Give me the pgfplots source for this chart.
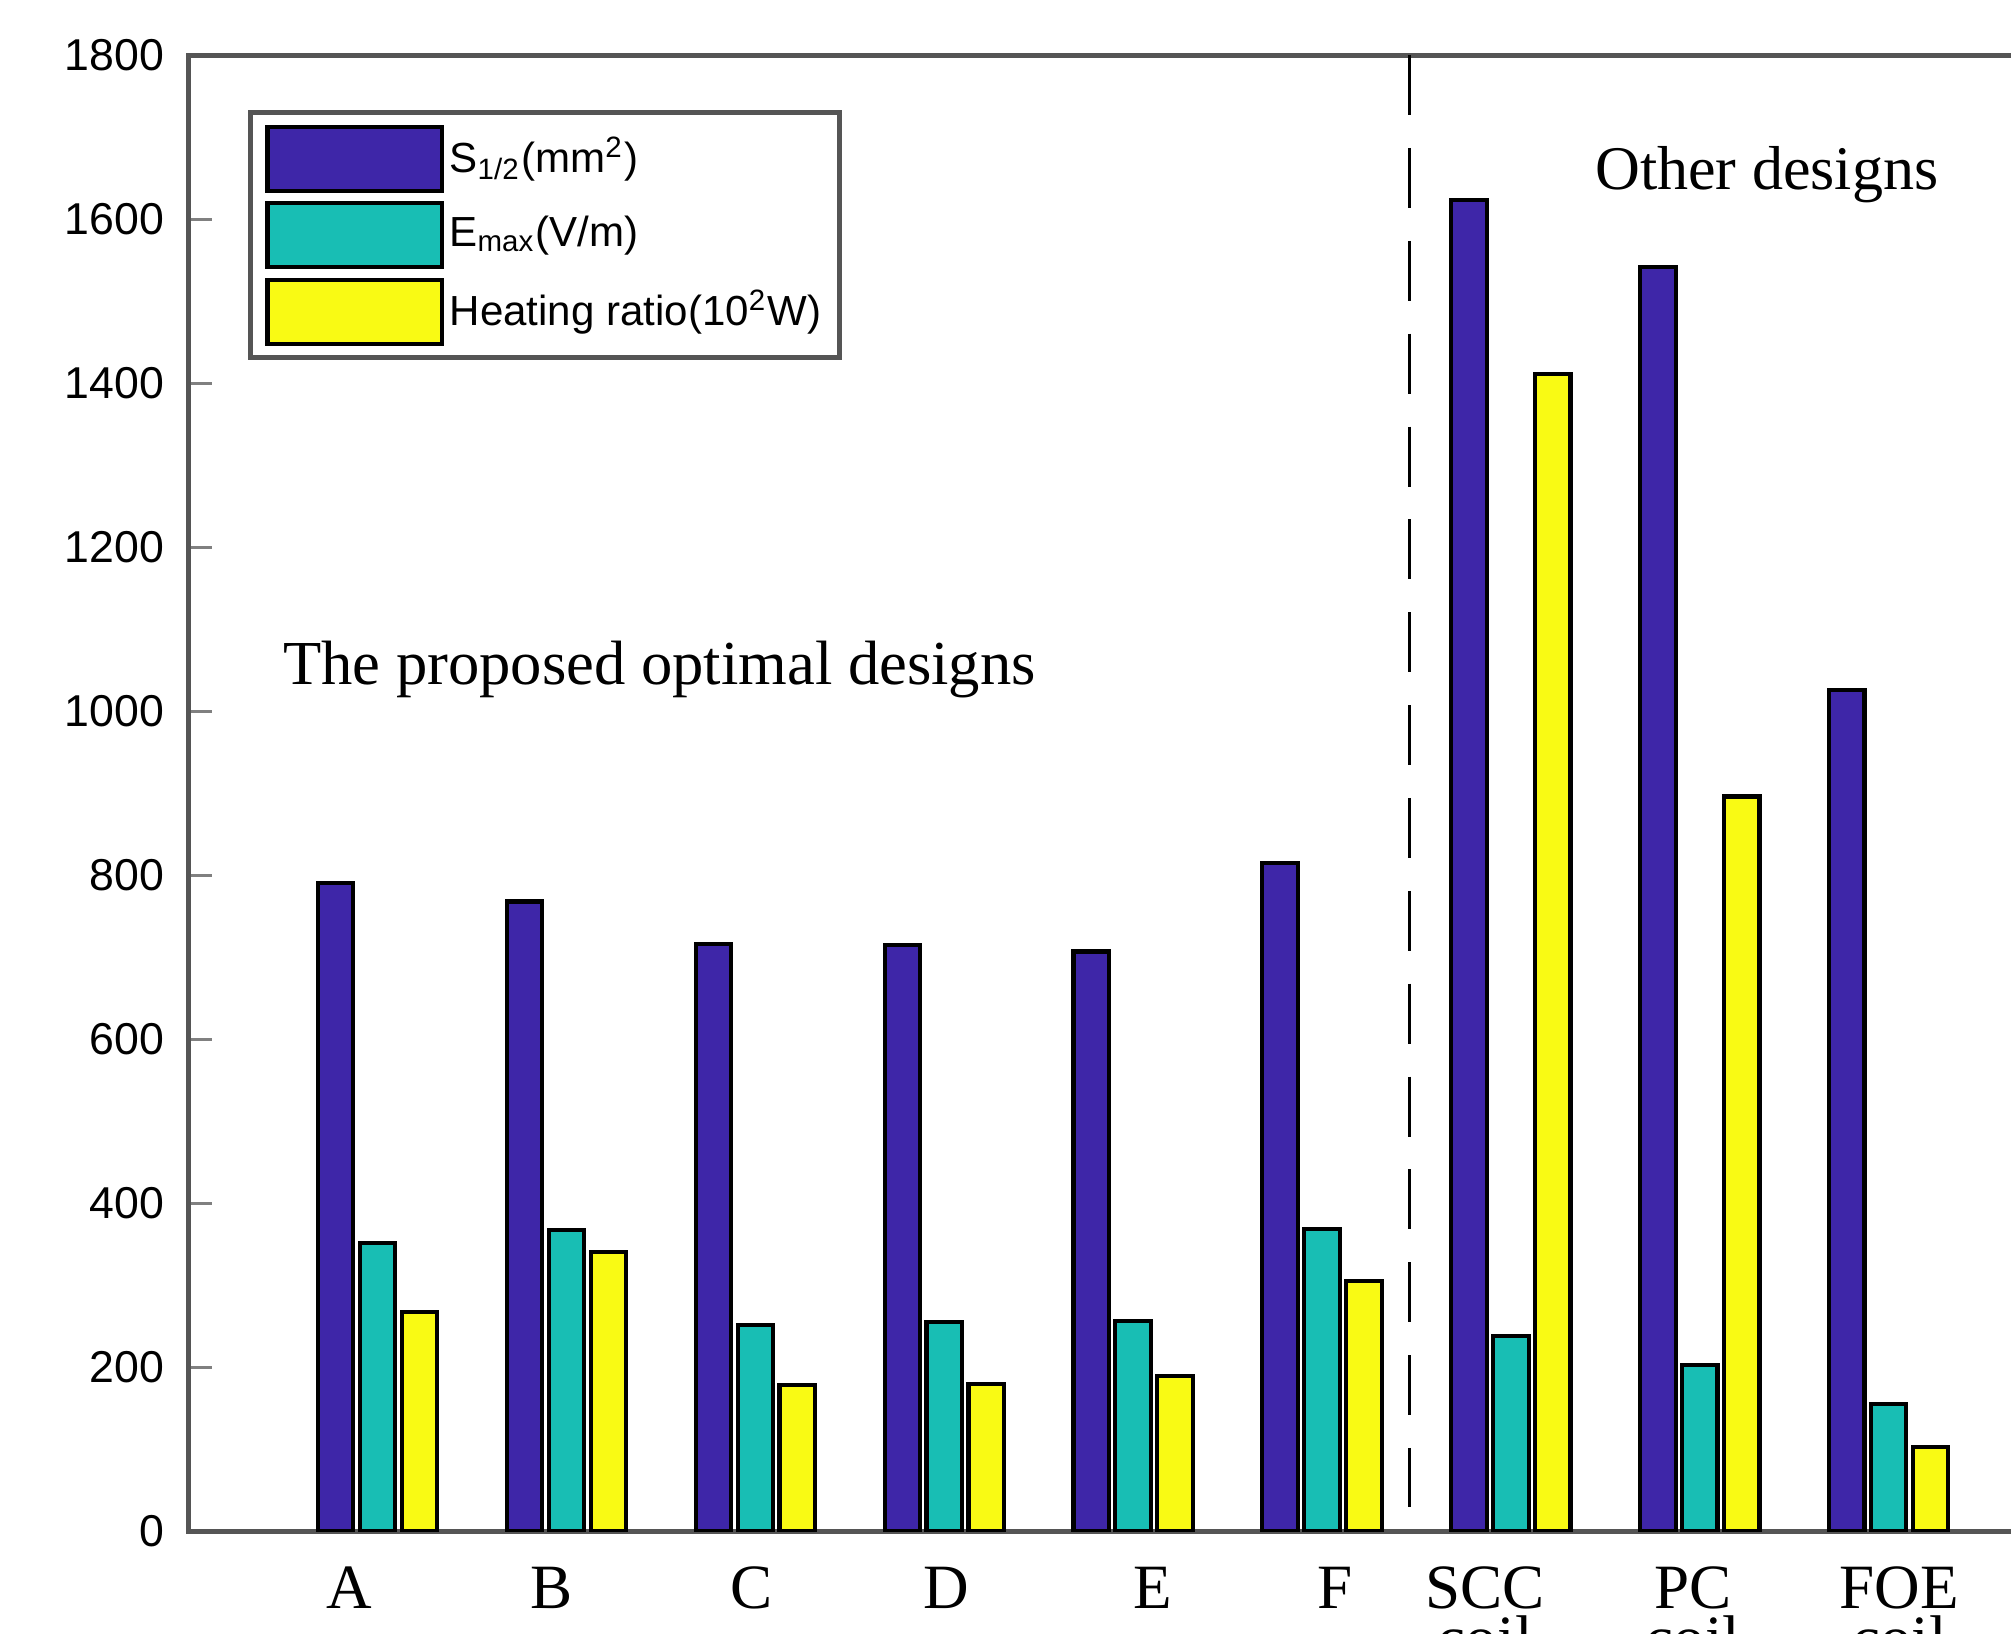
\documentclass[border=0pt]{standalone}
\usepackage{fontspec}
\setmainfont{Liberation Serif}
\newfontfamily\arialf{Liberation Sans}
\usepackage{pgfplots}
\pgfplotsset{compat=1.18}
\definecolor{c1}{RGB}{62,38,168}
\definecolor{c2}{RGB}{24,190,180}
\definecolor{c3}{RGB}{249,250,20}
\definecolor{axgray}{RGB}{85,85,85}
\pgfplotsset{mybar/.style={ybar, bar width=0.187, draw=black, line width=0.8pt,
  legend image code/.code={\draw[##1] (0pt,-6.25pt) rectangle (34pt,6.25pt);}}}
\newcommand\twol[2]{\vtop{\baselineskip=10pt\lineskiplimit=-20pt\lineskip=0pt\halign{\hfil##\hfil\cr#1\cr#2\cr}}}
\begin{document}
\begin{tikzpicture}
\begin{axis}[
  at={(0,0)}, anchor=south west,
  scale only axis, width=368.25pt, height=287.75pt,
  xmin=0, xmax=10, ymin=0, ymax=1800,
  axis line style={axgray, line width=1pt},
  ytick={0,200,...,1800}, ytick pos=left, tick align=inside,
  major tick length=4.5pt,
  ytick style={gray, line width=0.6pt},
  xtick={0.849,1.921,2.980,4.012,5.105,6.069,6.864,7.963,9.056},
  xticklabels={A,B,C,D,E,F,{\twol{SCC}{coil}},{\twol{PC}{coil}},{\twol{FOE}{coil}}},
  xtick style={draw=none},
  xticklabel style={font=\fontsize{12.3}{10}\selectfont, anchor=base, yshift=-15pt},
  /pgf/number format/assume math mode=true,
  /pgf/number format/1000 sep={},
  yticklabel style={font=\arialf\fontsize{8.7}{10}\selectfont, xshift=-1.2pt},
  legend style={at={(0,1)}, anchor=north west, xshift=11.5pt, yshift=-10.75pt,
    draw=axgray, line width=1pt, font=\arialf\fontsize{8.2}{9}\selectfont,
    inner xsep=3pt, inner ysep=2.3pt, row sep=1.6pt,
    nodes={inner sep=0.5pt},
    /tikz/every odd column/.style={column sep=0.6pt}},
  legend cell align=left,
]
\addplot[mybar, bar shift=-0.222, fill=c1] coordinates {(1,790) (2,768) (3,716) (4,715) (5,707) (6,815) (7,1623) (8,1542) (9,1026)};
\addlegendentry{S\textsubscript{1/2}(mm\textsuperscript{2})}
\addplot[mybar, bar shift=0, fill=c2] coordinates {(1,352) (2,367) (3,252) (4,255) (5,256) (6,369) (7,238) (8,203) (9,155)};
\addlegendentry{E\textsubscript{max}(V/m)}
\addplot[mybar, bar shift=0.222, fill=c3] coordinates {(1,267) (2,341) (3,178) (4,180) (5,189) (6,305) (7,1411) (8,896) (9,103)};
\addlegendentry{Heating ratio(10\textsuperscript{2}W)}
\addplot[black, line width=0.7pt, dash pattern=on 11.7pt off 6.4pt, forget plot] coordinates {(6.463,1800) (6.463,30)};
\node[anchor=base west, font=\fontsize{12.2}{14}\selectfont, inner sep=0pt] at (axis cs:0.4956,1032) {The proposed optimal designs};
\node[anchor=base west, font=\fontsize{12.1}{14}\selectfont, inner sep=0pt] at (axis cs:7.441,1636) {Other designs};
\end{axis}
\pgfresetboundingbox
\useasboundingbox (-36.75pt,-20pt) rectangle (355.25pt,298.5pt);
\end{tikzpicture}
\end{document}
